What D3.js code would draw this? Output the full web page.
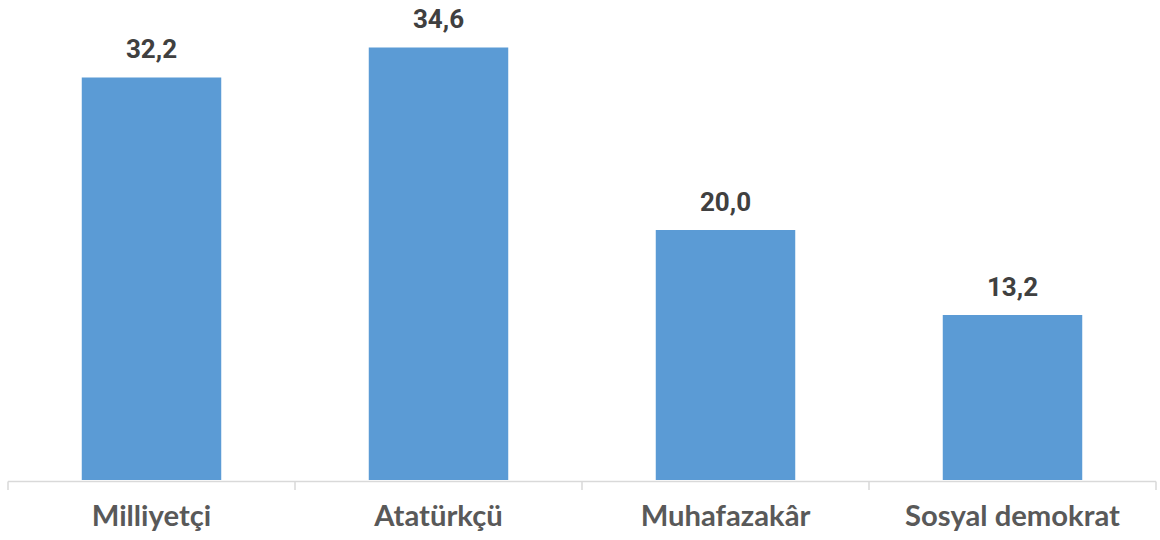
<!DOCTYPE html>
<html>
<head>
<meta charset="utf-8">
<script src="https://cdn.jsdelivr.net/npm/d3@7"></script>
<style>
  html, body { margin: 0; padding: 0; background: #ffffff; }
  svg { display: block; }
</style>
</head>
<body>
<svg id="chart" width="1160" height="540"></svg>
<script>
const categories = ["Milliyetçi", "Atatürkçü", "Muhafazakâr", "Sosyal demokrat"];
const values = [32.2, 34.6, 20.0, 13.2];
const valueLabels = ["32,2", "34,6", "20,0", "13,2"];

const svg = d3.select("#chart");
const baseY = 480;
const x = d3.scaleBand()
  .domain(categories)
  .range([8, 1156])
  .paddingInner(0.514)
  .paddingOuter(0.257);
const y = d3.scaleLinear().domain([0, 38.4]).range([baseY, 0]);

// bars
svg.append("g").selectAll("rect")
  .data(categories)
  .join("rect")
  .attr("x", d => x(d))
  .attr("width", x.bandwidth())
  .attr("y", (d, i) => y(values[i]))
  .attr("height", (d, i) => baseY - y(values[i]))
  .attr("fill", "#5b9bd5");

// value labels
svg.append("g").selectAll("text")
  .data(categories)
  .join("text")
  .attr("x", d => x(d) + x.bandwidth() / 2)
  .attr("y", (d, i) => y(values[i]) - 19.5)
  .attr("text-anchor", "middle")
  .attr("font-family", "Roboto, 'Liberation Sans', sans-serif")
  .attr("font-weight", "bold")
  .attr("font-size", 26)
  .attr("fill", "#404040")
  .text((d, i) => valueLabels[i]);

// axis
const axis = d3.axisBottom(x).tickSize(0).tickFormat("");
const gAxis = svg.append("g").attr("transform", `translate(0,${baseY + 1.5})`).call(axis);
gAxis.select(".domain").attr("stroke", "#d9d9d9").attr("stroke-width", 1.5).attr("d", "M8,0H1156");
// category boundary ticks
const step = x.step();
const boundaries = d3.range(categories.length + 1).map(i => 8 + i * step);
gAxis.selectAll(".bound")
  .data(boundaries)
  .join("line")
  .attr("class", "bound")
  .attr("x1", d => d).attr("x2", d => d)
  .attr("y1", 0).attr("y2", 8.5)
  .attr("stroke", "#d9d9d9")
  .attr("stroke-width", 1.5);

// category labels
const cat = svg.append("g").selectAll("text")
  .data(categories)
  .join("text")
  .attr("x", d => x(d) + x.bandwidth() / 2)
  .attr("y", 526)
  .attr("text-anchor", "middle")
  .attr("font-family", "Lato, 'Open Sans', sans-serif")
  .attr("font-weight", "bold")
  .attr("font-size", 26)
  .attr("fill", "#595959")
  .text(d => d);
// fit font size so the longest label matches the reference width
const last = cat.filter(d => d === "Sosyal demokrat").node();
const w = last.getComputedTextLength();
cat.attr("font-size", 26 * 215 / w);
</script>
</body>
</html>
